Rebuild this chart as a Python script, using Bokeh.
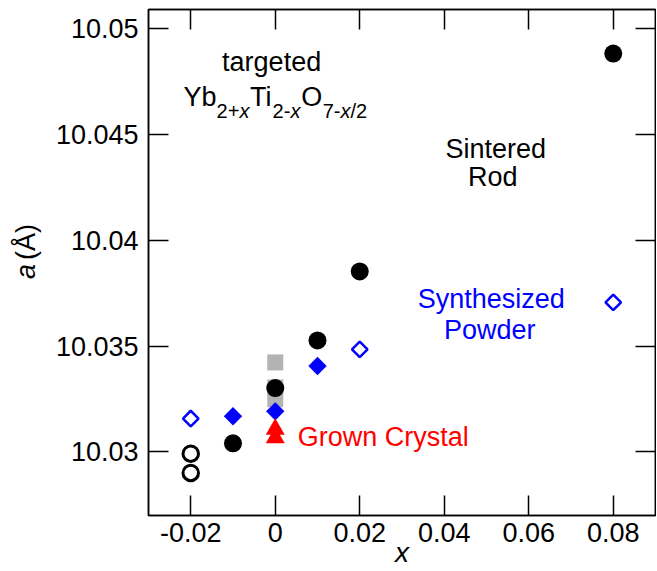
import math
from bokeh.plotting import figure
from bokeh.layouts import row
from bokeh.models import (ColumnDataSource, FixedTicker, CustomJSTickFormatter,
                          LinearAxis, CustomLabelingPolicy)
from bokeh.core.properties import value
from bokeh.embed import file_html
from bokeh.resources import INLINE

# ---------------- data ----------------
rod_x = [-0.01, 0.0, 0.01, 0.02, 0.08]
rod_a = [10.03041, 10.03302, 10.03527, 10.03853, 10.04882]
rod_open_x = [-0.02, -0.02]
rod_open_a = [10.02992, 10.02901]
powder_filled_x = [-0.01, 0.0, 0.01]
powder_filled_a = [10.03169, 10.03192, 10.03406]
powder_open_x = [-0.02, 0.02, 0.08]
powder_open_a = [10.03158, 10.03485, 10.03707]
gray_x = [0.0, 0.0, 0.0]
gray_a = [10.03423, 10.03305, 10.03249]
crystal_x = [0.0, 0.0]
crystal_a = [10.03107, 10.03067]
x_ticks = [-0.02, 0, 0.02, 0.04, 0.06, 0.08]
y_ticks = [10.03, 10.035, 10.04, 10.045, 10.05]

# ---------------- layout helpers ----------------
X0, X1 = -0.03, 0.09
Y0, Y1 = 10.027, 10.0509
FL, FR, FT, FB = 148, 654.5, 9, 515   # frame edges on the page (px)
H = 570
LW = 48                              # width of the y-title strip
W = 656
BASE_FIX = 0.31                      # baseline correction (em)


def px_x(px):
    return X0 + (px - FL) / (FR - FL) * (X1 - X0)


def px_y(py):
    return Y1 - (py - FT) / (FB - FT) * (Y1 - Y0)


FONT = "Liberation Sans"

p = figure(width=W - LW, height=H, x_range=(X0, X1), y_range=(Y0, Y1),
           output_backend="svg", toolbar_location=None,
           min_border_left=FL - LW, min_border_right=1,
           min_border_top=FT, min_border_bottom=H - FB)
p.xgrid.visible = False
p.ygrid.visible = False
p.outline_line_color = "black"
p.outline_line_width = 1.5
p.background_fill_color = "white"
p.border_fill_color = "white"

fmt = CustomJSTickFormatter(code="return String(Number(tick.toFixed(4)));")
hide_all = CustomLabelingPolicy(code="""
const n = indices.size;
for (let i = 0; i < n; i++) { indices.unset(i); }
return indices;
""")


def style_axis(ax, ticks, show, standoff=10):
    ax.ticker = FixedTicker(ticks=ticks, minor_ticks=[])
    ax.major_tick_in = 20
    ax.major_tick_out = 0
    ax.minor_tick_in = 0
    ax.minor_tick_out = 0
    ax.axis_line_color = "black"
    ax.axis_line_width = 1.5
    ax.major_tick_line_color = "black"
    ax.major_tick_line_width = 1.5
    ax.formatter = fmt
    ax.major_label_text_font = FONT
    ax.major_label_text_color = "black"
    if show:
        ax.major_label_text_font_size = "27px"
        ax.major_label_standoff = standoff
    else:
        ax.major_label_text_font_size = "0px"
        ax.major_label_standoff = 0
        ax.major_label_policy = hide_all


style_axis(p.xaxis[0], x_ticks, True, 7)
style_axis(p.yaxis[0], y_ticks, True, 10)
p.xaxis[0].axis_label = "x"
p.xaxis[0].axis_label_text_font = FONT
p.xaxis[0].axis_label_text_font_size = "28px"
p.xaxis[0].axis_label_text_font_style = "italic"
p.xaxis[0].axis_label_text_color = "black"
p.xaxis[0].axis_label_standoff = -8

top = LinearAxis()
right = LinearAxis()
style_axis(top, x_ticks, False)
style_axis(right, y_ticks, False)
p.add_layout(top, "above")
p.add_layout(right, "right")

# ---------------- markers ----------------
p.scatter(gray_x, gray_a, marker="square", size=16,
          fill_color="#b3b3b3", line_color=None)
p.scatter(rod_x, rod_a, marker="circle", size=18,
          fill_color="black", line_color=None)
p.scatter(rod_open_x, rod_open_a, marker="circle", size=15.5,
          fill_color=None, line_color="black", line_width=3)
p.scatter(powder_filled_x, powder_filled_a, marker="square", angle=math.pi / 4,
          size=13, fill_color="blue", line_color=None)
p.scatter(powder_open_x, powder_open_a, marker="square", angle=math.pi / 4,
          size=11, fill_color=None, line_color="blue", line_width=2.5)
p.scatter(crystal_x, crystal_a, marker="triangle", size=19,
          fill_color="red", line_color=None)

# ---------------- annotations ----------------
pieces = [
    # text, page x, page y (baseline), size, style, color, align
    ("targeted", 271, 70, 27, "normal", "black", "center"),
    ("Yb", 183, 105, 27, "normal", "black", "left"),
    ("2+", 216, 117, 20, "normal", "black", "left"),
    ("x", 238.8, 117, 20, "italic", "black", "left"),
    ("Ti", 249.5, 105, 27, "normal", "black", "left"),
    ("2-", 272, 117, 20, "normal", "black", "left"),
    ("x", 289.8, 117, 20, "italic", "black", "left"),
    ("O", 300.5, 105, 27, "normal", "black", "left"),
    ("7-", 322, 117, 20, "normal", "black", "left"),
    ("x", 339.8, 117, 20, "italic", "black", "left"),
    ("/2", 349.8, 117, 20, "normal", "black", "left"),
    ("Sintered", 495, 157, 27, "normal", "black", "center"),
    ("Rod", 492, 185, 27, "normal", "black", "center"),
    ("Synthesized", 490.5, 307, 27, "normal", "blue", "center"),
    ("Powder", 489, 338, 27, "normal", "blue", "center"),
    ("Grown Crystal", 297, 445, 27, "normal", "red", "left"),
]
src = ColumnDataSource(dict(
    x=[px_x(t[1]) for t in pieces],
    y=[px_y(t[2] - BASE_FIX * t[3]) for t in pieces],
    text=[t[0] for t in pieces],
    size=[f"{t[3]}px" for t in pieces],
    style=[t[4] for t in pieces],
    color=[t[5] for t in pieces],
    align=[t[6] for t in pieces],
))
p.text(x="x", y="y", text="text", source=src, text_font_size="size",
       text_font_style="style", text_color="color", text_align="align",
       text_baseline="alphabetic", text_font=value(FONT))

# ---------------- y title strip ----------------
lf = figure(width=LW, height=H, x_range=(0, LW), y_range=(0, H),
            output_backend="svg", toolbar_location=None,
            x_axis_location=None, y_axis_location=None,
            min_border=0)
lf.xgrid.visible = False
lf.ygrid.visible = False
lf.outline_line_color = None
lf.background_fill_color = "white"
lf.border_fill_color = "white"
# centres of the two parts of the rotated title, on the page
title_src = ColumnDataSource(dict(
    x=[25.5, 25.5], y=[H - 295, H - 262], text=["a", "(Å)"],
    style=["italic", "normal"],
))
lf.text(x="x", y="y", text="text", source=title_src, angle=math.pi / 2,
        text_font=value(FONT), text_font_size="27px",
        text_font_style="style", text_align="center",
        text_baseline="middle", text_color="black")

layout = row(lf, p)
open("out.html", "w").write(file_html(layout, INLINE))
